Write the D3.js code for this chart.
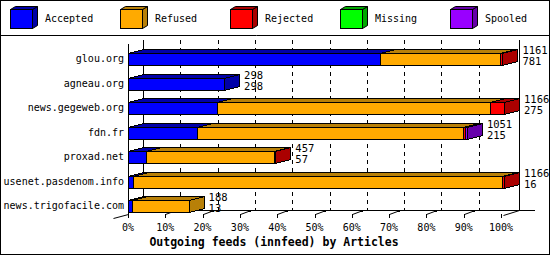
<!DOCTYPE html>
<html>
<head>
<meta charset="utf-8">
<script src="https://cdn.jsdelivr.net/npm/d3@7"></script>
<style>
  body { margin: 0; background: #fff; }
  svg { display: block; }
</style>
</head>
<body>
<svg id="chart"></svg>
<script>
const categories = [
  'glou.org',
  'agneau.org',
  'news.gegeweb.org',
  'fdn.fr',
  'proxad.net',
  'usenet.pasdenom.info',
  'news.trigofacile.com',
];
const totals = [1161, 298, 1166, 1051, 457, 1166, 188];
const accepted = [781, 298, 275, 215, 57, 16, 13];
const refused = [372, 0, 848, 823, 397, 1143, 175];
const rejected = [8, 0, 43, 7, 3, 7, 0];
const missing = [0, 0, 0, 0, 0, 0, 0];
const spooled = [0, 0, 0, 6, 0, 0, 0];
const seriesNames = ['Accepted', 'Refused', 'Rejected', 'Missing', 'Spooled'];
const tickValues = [0, 10, 20, 30, 40, 50, 60, 70, 80, 90, 100];

const colors = {
  Accepted: ['#0000ff', '#0000a8'],
  Refused: ['#ffaa00', '#b88008'],
  Rejected: ['#ff0000', '#aa0000'],
  Missing: ['#00ff00', '#00a800'],
  Spooled: ['#9900ff', '#6600aa'],
};

const W = 550;
const H = 255;
const depth = { x: 15, y: 4 };
const barH = 12;
const font = '"DejaVu Sans Mono", monospace';

const series = [accepted, refused, rejected, missing, spooled];
const rows = categories.map((name, i) => ({
  name,
  total: totals[i],
  accepted: accepted[i],
  values: series.map(s => s[i]),
}));

const svg = d3
  .select('#chart')
  .attr('width', W)
  .attr('height', H)
  .style('font-family', font);

svg
  .append('rect')
  .attr('width', W)
  .attr('height', H)
  .attr('fill', '#fff');

// scales
const xBar = d3.scaleLinear().domain([0, 1166]).range([128, 504]);
const xPct = d3.scaleLinear().domain([0, 100]).range([128, 501]);
const y = d3.scalePoint().domain(categories).range([59, 206]);

const px = v => Math.round(v) + 0.5;
const frontBottom = 214;
const backBottom = frontBottom - depth.y;
const plotTop = 40;

// legend
const legend = svg.append('g').attr('class', 'legend');
seriesNames.forEach((name, i) => {
  const lx = 10 + i * 110;
  const g = legend.append('g');
  const [front, dark] = colors[name];
  g.append('polygon')
    .attr('points', [[lx + 22, 9], [lx + 27, 6], [lx + 27, 25], [lx + 22, 28]].map(p => p.map(px).join(',')).join(' '))
    .attr('fill', dark)
    .attr('stroke', '#000');
  g.append('polygon')
    .attr('points', [[lx, 9], [lx + 5, 6], [lx + 27, 6], [lx + 22, 9]].map(p => p.map(px).join(',')).join(' '))
    .attr('fill', dark)
    .attr('stroke', '#000');
  g.append('rect')
    .attr('x', px(lx))
    .attr('y', px(9))
    .attr('width', 22)
    .attr('height', 19)
    .attr('fill', front)
    .attr('stroke', '#000');
  g.append('text')
    .attr('x', lx + 35)
    .attr('y', 19)
    .attr('dominant-baseline', 'middle')
    .attr('font-size', 10)
    .text(name);
});

svg
  .append('line')
  .attr('x1', 0)
  .attr('x2', W)
  .attr('y1', px(35))
  .attr('y2', px(35))
  .attr('stroke', '#000');

// back wall, grid
const axes = svg.append('g').attr('class', 'axes').attr('stroke', '#000').attr('shape-rendering', 'crispEdges');

axes
  .selectAll('line.grid')
  .data(tickValues.slice(1, -1))
  .enter()
  .append('line')
  .attr('class', 'grid')
  .attr('x1', d => px(xPct(d) + depth.x))
  .attr('x2', d => px(xPct(d) + depth.x))
  .attr('y1', plotTop)
  .attr('y2', backBottom)
  .attr('stroke-dasharray', '4,4');

const backLeft = xBar(0) + depth.x;
const backRight = xBar(1166) + depth.x;
axes.append('line').attr('x1', px(backLeft)).attr('x2', px(backLeft)).attr('y1', plotTop).attr('y2', px(backBottom));
axes.append('line').attr('x1', px(backRight)).attr('x2', px(backRight)).attr('y1', plotTop).attr('y2', px(backBottom));
axes.append('line').attr('x1', px(xBar(0))).attr('x2', px(xBar(0))).attr('y1', plotTop + depth.y).attr('y2', px(frontBottom));
axes.append('line').attr('x1', px(backLeft)).attr('x2', px(backRight + 15)).attr('y1', px(backBottom)).attr('y2', px(backBottom));

// floor ticks
const ticks = axes.selectAll('g.tick').data(tickValues).enter().append('g').attr('class', 'tick');
ticks
  .append('line')
  .attr('x1', d => px(xPct(d)))
  .attr('x2', d => px(xPct(d)))
  .attr('y1', frontBottom)
  .attr('y2', frontBottom + 4);
ticks
  .filter(d => d > 0 && d < 100)
  .append('line')
  .attr('shape-rendering', 'auto')
  .attr('x1', d => px(xPct(d)))
  .attr('y1', px(frontBottom))
  .attr('x2', d => px(xPct(d) + 8))
  .attr('y2', px(frontBottom - 3));
ticks
  .filter(d => d > 0 && d < 100)
  .append('rect')
  .attr('x', d => Math.round(xPct(d)) + 8)
  .attr('y', backBottom)
  .attr('width', 3)
  .attr('height', 2)
  .attr('fill', '#000')
  .attr('stroke', 'none');
axes
  .append('line')
  .attr('shape-rendering', 'auto')
  .attr('x1', px(xBar(0) - depth.x))
  .attr('y1', px(frontBottom + depth.y))
  .attr('x2', px(xBar(0)))
  .attr('y2', px(frontBottom));
axes
  .append('line')
  .attr('shape-rendering', 'auto')
  .attr('x1', px(xPct(100) + 2))
  .attr('y1', px(frontBottom + 1))
  .attr('x2', px(backRight))
  .attr('y2', px(backBottom));

svg
  .append('g')
  .selectAll('text')
  .data(tickValues)
  .enter()
  .append('text')
  .attr('x', d => xPct(d))
  .attr('y', 228)
  .attr('text-anchor', 'middle')
  .attr('dominant-baseline', 'middle')
  .attr('font-size', 10)
  .text(d => `${d}%`);

// bars
const bars = svg.append('g').attr('class', 'bars').attr('stroke', '#000').attr('shape-rendering', 'crispEdges');

rows.forEach(row => {
  const yt = Math.round(y(row.name) - barH / 2);
  const yb = yt + barH;
  const segs = [];
  let acc = 0;
  row.values.forEach((v, k) => {
    if (v > 0) {
      segs.push({ name: seriesNames[k], x0: xBar(acc), x1: xBar(acc + v) });
      acc += v;
    }
  });
  const g = bars.append('g');
  segs.forEach((s, k) => {
    const [front, dark] = colors[s.name];
    const a = Math.round(s.x0);
    const b = Math.round(s.x1);
    g.append('polygon')
      .attr('points', [[a, yt], [a + depth.x, yt - depth.y], [b + depth.x, yt - depth.y], [b, yt]].map(p => p.map(v => v + 0.5).join(',')).join(' '))
      .attr('fill', dark);
    if (k === segs.length - 1) {
      g.append('polygon')
        .attr('points', [[b, yt], [b + depth.x, yt - depth.y], [b + depth.x, yb - depth.y], [b, yb]].map(p => p.map(v => v + 0.5).join(',')).join(' '))
        .attr('fill', dark);
    }
    g.append('rect')
      .attr('x', a + 0.5)
      .attr('y', yt + 0.5)
      .attr('width', Math.max(0, b - a))
      .attr('height', barH)
      .attr('fill', front);
  });
  const endX = xBar(acc) + depth.x + 5;
  g.append('text')
    .attr('x', endX)
    .attr('y', y(row.name) - 8)
    .attr('dominant-baseline', 'middle')
    .attr('font-size', 10.5)
    .attr('stroke', 'none')
    .text(row.total);
  g.append('text')
    .attr('x', endX)
    .attr('y', y(row.name) + 3)
    .attr('dominant-baseline', 'middle')
    .attr('font-size', 10.5)
    .attr('stroke', 'none')
    .text(row.accepted);
});

// category labels
svg
  .append('g')
  .selectAll('text')
  .data(categories)
  .enter()
  .append('text')
  .attr('x', 124)
  .attr('y', d => y(d))
  .attr('text-anchor', 'end')
  .attr('dominant-baseline', 'middle')
  .attr('font-size', 10)
  .text(d => d);

svg
  .append('text')
  .attr('x', 274)
  .attr('y', 242)
  .attr('text-anchor', 'middle')
  .attr('dominant-baseline', 'middle')
  .attr('font-size', 11.5)
  .attr('font-weight', 'bold')
  .text('Outgoing feeds (innfeed) by Articles');

svg
  .append('rect')
  .attr('x', 0.5)
  .attr('y', 0.5)
  .attr('width', W - 1)
  .attr('height', H - 1)
  .attr('fill', 'none')
  .attr('stroke', '#000');
</script>
</body>
</html>
